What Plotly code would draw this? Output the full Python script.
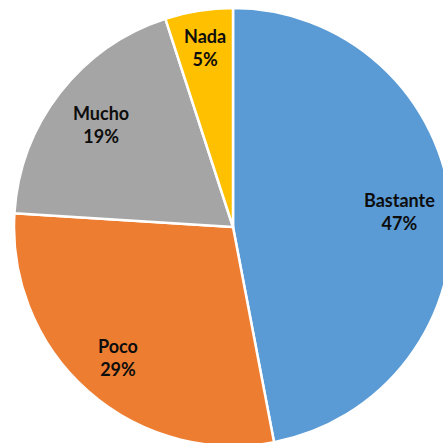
import math
import plotly.graph_objects as go

# Survey answers and their share (%)
categories = ["Bastante", "Poco", "Mucho", "Nada"]
shares = [47, 29, 19, 5]
colors = ["#5B9BD5", "#ED7D31", "#A5A5A5", "#FFC000"]

# Label distance from the centre, as a fraction of the radius
label_radius = [0.765, 0.795, 0.765, 0.83]

# Canvas and pie geometry (pixels)
W, H = 452, 446
cx, cy, r = 233, 227, 219

fig = go.Figure(
    go.Pie(
        labels=categories,
        values=shares,
        sort=False,
        direction="clockwise",
        rotation=0,
        marker=dict(colors=colors, line=dict(color="white", width=2.5)),
        textinfo="none",
        hoverinfo="label+percent",
        domain=dict(x=[(cx - r) / W, (cx + r) / W], y=[1 - (cy + r) / H, 1 - (cy - r) / H]),
    )
)

# Labels placed at the middle angle of each slice
total = sum(shares)
acc = 0
annotations = []
for name, v, f in zip(categories, shares, label_radius):
    mid = (acc + v / 2) / total * 2 * math.pi
    acc += v
    px = cx + f * r * math.sin(mid)
    py = cy - f * r * math.cos(mid)
    annotations.append(
        dict(
            x=px / W,
            y=1 - py / H,
            xref="paper",
            yref="paper",
            text=f"{name}<br>{round(v / total * 100)}%",
            showarrow=False,
            xanchor="center",
            yanchor="middle",
            font=dict(family="Lato", size=18, color="#0d0d0d", weight="bold"),
        )
    )

fig.update_layout(
    width=W,
    height=H,
    autosize=False,
    margin=dict(l=0, r=0, t=0, b=0),
    paper_bgcolor="white",
    plot_bgcolor="white",
    showlegend=False,
    annotations=annotations,
)

fig.write_html(
    "out.html",
    post_script="document.documentElement.style.overflow='hidden';document.body.style.overflow='hidden';document.body.style.margin='0';",
)
